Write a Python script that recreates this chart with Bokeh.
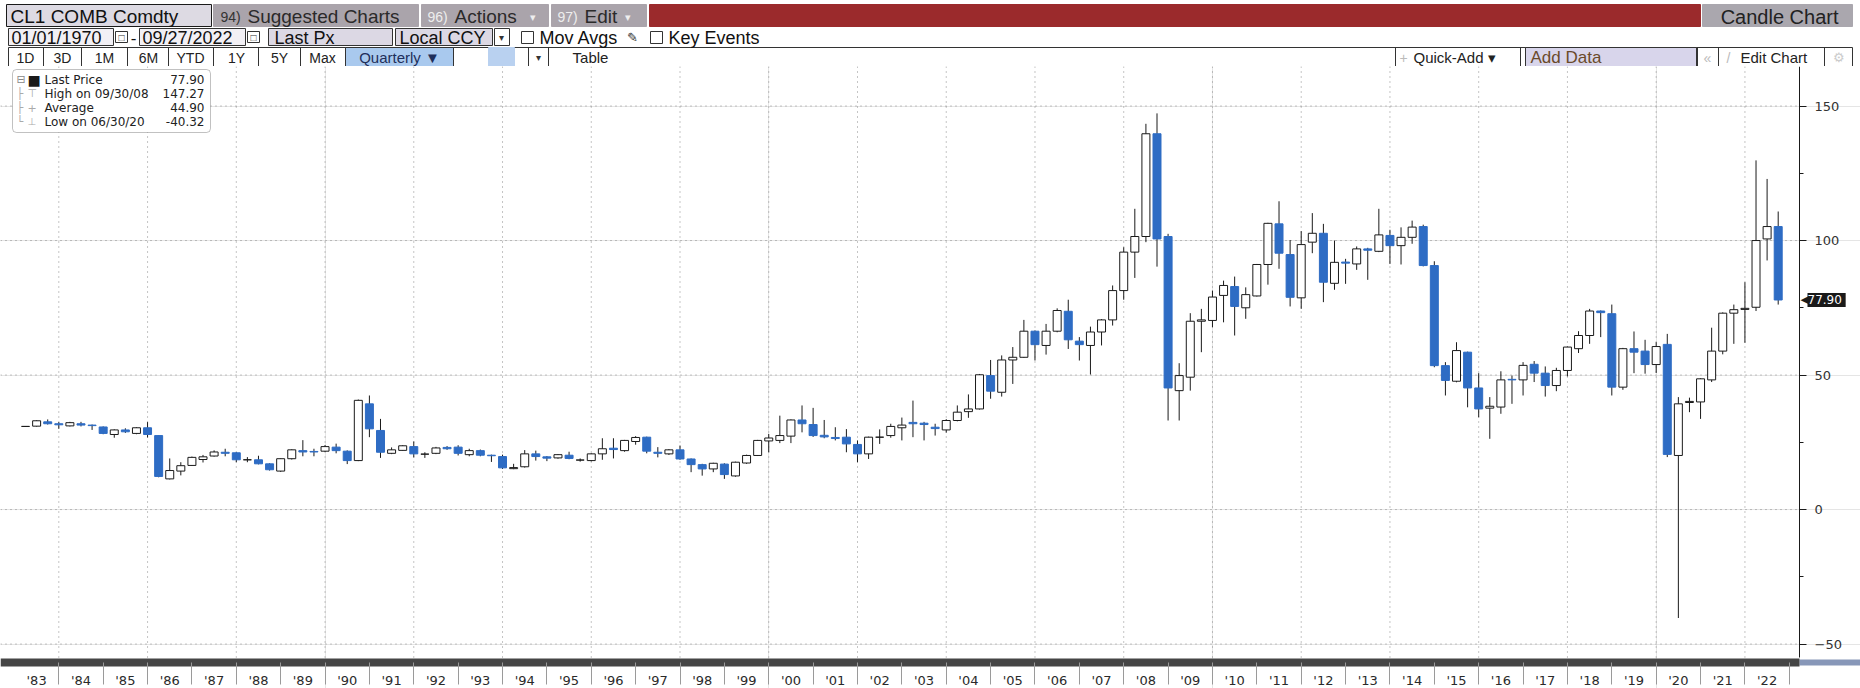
import pandas as pd
from bokeh.plotting import figure
from bokeh.models import Range1d, FixedTicker, Label, BoxAnnotation, ColumnDataSource, LinearAxis
from bokeh.layouts import column
from bokeh.embed import file_html
from bokeh.resources import INLINE
from bokeh.core.properties import value

# ---------------- data ----------------
quarters = pd.period_range("1983Q1", "2022Q3", freq="Q")

year_labels = ["'83", "'84", "'85", "'86", "'87", "'88", "'89", "'90", "'91", "'92",
               "'93", "'94", "'95", "'96", "'97", "'98", "'99", "'00", "'01", "'02",
               "'03", "'04", "'05", "'06", "'07", "'08", "'09", "'10", "'11", "'12",
               "'13", "'14", "'15", "'16", "'17", "'18", "'19", "'20", "'21", "'22"]

opens = [30.9, 31.0, 32.6, 31.9, 31.1, 31.9, 31.4, 30.7, 27.9, 29.6,
         28.3, 30.4, 27.5, 11.4, 14.3, 16.4, 18.6, 19.9, 21.3, 21.1,
         18.5, 18.5, 17.0, 14.3, 18.9, 21.9, 21.6, 21.7, 23.2, 21.7,
         18.2, 39.3, 29.4, 20.9, 22.0, 23.4, 20.6, 20.9, 23.1, 23.2,
         20.4, 21.9, 20.2, 19.7, 15.2, 15.9, 20.7, 19.6, 19.2, 20.2,
         18.4, 18.2, 20.7, 22.8, 21.9, 25.3, 26.9, 21.3, 20.7, 22.2,
         18.8, 16.7, 15.1, 16.9, 12.5, 17.3, 20.1, 25.5, 25.7, 27.3,
         33.3, 31.6, 27.6, 26.8, 26.9, 24.2, 20.7, 26.9, 27.5, 30.4,
         32.4, 32.1, 30.6, 29.6, 33.1, 36.4, 37.4, 49.8, 43.6, 55.6,
         56.6, 66.3, 61.0, 66.3, 73.7, 62.6, 61.0, 66.0, 70.5, 81.4,
         95.7, 101.5, 139.7, 101.5, 44.2, 49.2, 70.0, 70.3, 79.6, 82.9,
         75.0, 79.4, 91.1, 106.2, 94.8, 78.7, 99.4, 102.7, 84.1, 92.0,
         91.3, 96.9, 96.0, 101.9, 98.1, 101.2, 105.2, 90.7, 53.5, 47.7,
         58.5, 45.2, 37.7, 38.1, 48.4, 48.2, 54.0, 50.7, 46.1, 51.7,
         59.8, 64.7, 73.8, 72.8, 45.5, 59.8, 58.9, 53.9, 61.4, 20.1,
         39.8, 40.0, 48.2, 58.9, 73.0, 74.4, 75.2, 100.6, 105.2]

highs = [31.0, 33.2, 33.5, 32.5, 32.6, 32.6, 31.6, 30.9, 29.8, 30.2,
         30.6, 32.5, 27.6, 19.0, 17.6, 19.7, 20.3, 22.0, 22.6, 21.3,
         19.5, 20.0, 17.2, 19.0, 22.4, 25.8, 22.6, 24.0, 24.5, 22.0,
         40.9, 42.4, 33.7, 23.1, 23.9, 25.3, 21.3, 23.3, 23.6, 23.9,
         22.6, 22.3, 20.4, 20.4, 17.0, 22.1, 21.9, 19.9, 20.6, 21.5,
         19.0, 20.9, 26.5, 26.5, 25.9, 27.3, 27.1, 23.2, 22.5, 23.8,
         19.0, 17.0, 17.4, 17.2, 17.8, 20.4, 25.9, 28.1, 34.9, 33.5,
         38.7, 37.8, 33.3, 30.6, 29.9, 25.7, 27.1, 29.8, 31.9, 34.2,
         40.5, 32.6, 31.9, 33.6, 38.7, 42.8, 50.4, 55.6, 57.3, 60.4,
         70.5, 66.6, 69.0, 74.8, 78.0, 64.1, 68.0, 70.8, 83.3, 97.5,
         111.8, 143.4, 147.27, 102.5, 54.4, 73.0, 74.6, 81.4, 85.1, 86.6,
         82.6, 91.3, 106.6, 114.6, 100.2, 103.5, 110.2, 106.2, 100.0, 93.2,
         97.8, 97.3, 111.8, 104.0, 104.9, 107.4, 105.9, 92.3, 54.8, 62.2,
         58.7, 50.7, 41.8, 51.4, 49.8, 54.8, 55.2, 53.2, 52.7, 60.6,
         66.3, 74.6, 74.0, 76.2, 60.1, 66.2, 63.1, 62.2, 65.3, 41.8,
         41.6, 48.8, 67.6, 73.3, 76.2, 84.5, 129.8, 122.9, 110.8]

lows = [30.8, 30.8, 31.6, 30.0, 30.9, 30.9, 29.6, 28.0, 26.7, 28.5,
        28.0, 26.8, 12.0, 11.2, 12.7, 16.2, 17.5, 19.7, 19.8, 17.6,
        17.6, 16.8, 14.5, 14.0, 18.6, 19.8, 19.8, 21.4, 20.9, 16.9,
        18.0, 26.9, 19.2, 20.6, 21.9, 19.4, 19.2, 20.6, 22.2, 20.1,
        19.8, 19.8, 17.7, 15.1, 15.0, 15.6, 18.2, 18.0, 18.9, 18.7,
        17.8, 17.9, 18.5, 19.0, 21.5, 24.1, 20.9, 19.4, 20.3, 18.5,
        13.9, 12.6, 13.9, 11.4, 12.2, 17.0, 19.9, 21.3, 24.7, 24.7,
        28.7, 27.0, 26.5, 25.7, 21.3, 17.6, 18.8, 24.4, 26.7, 25.7,
        26.9, 25.7, 27.5, 28.6, 32.8, 34.1, 37.2, 41.2, 42.0, 46.7,
        56.4, 55.4, 57.6, 65.9, 59.7, 55.4, 50.2, 61.0, 68.4, 78.0,
        86.1, 99.4, 90.3, 33.1, 33.1, 44.2, 58.5, 67.8, 69.6, 64.7,
        70.9, 79.2, 83.6, 89.5, 75.5, 74.6, 95.3, 77.1, 81.7, 83.9,
        89.1, 85.4, 95.7, 91.3, 91.1, 98.8, 90.4, 52.9, 42.4, 47.3,
        38.0, 34.3, 26.3, 35.6, 39.3, 42.4, 47.4, 42.0, 44.0, 49.5,
        58.2, 61.6, 64.1, 42.4, 44.5, 50.7, 50.5, 50.8, 19.5, -40.32,
        36.2, 33.7, 47.4, 57.7, 61.6, 62.0, 73.8, 92.6, 76.2]

closes = [30.9, 33.0, 31.9, 31.5, 32.3, 31.4, 31.2, 28.3, 29.6, 28.9,
          30.4, 27.9, 12.3, 14.5, 16.3, 19.4, 19.6, 21.4, 20.9, 18.5,
          18.5, 17.0, 14.8, 18.9, 22.2, 21.4, 21.4, 23.4, 21.9, 18.2,
          40.6, 30.0, 21.3, 22.2, 23.7, 20.7, 20.6, 22.9, 22.6, 20.9,
          21.9, 20.2, 20.0, 15.5, 15.6, 20.7, 19.7, 19.1, 20.4, 19.0,
          18.4, 20.7, 22.6, 22.3, 25.7, 26.8, 21.7, 20.9, 22.2, 18.8,
          16.7, 15.1, 17.2, 13.0, 17.6, 20.1, 25.7, 26.6, 27.5, 33.3,
          31.9, 27.5, 27.0, 26.4, 24.4, 20.7, 26.9, 26.9, 30.9, 31.4,
          31.9, 31.6, 30.1, 33.1, 36.2, 37.4, 50.1, 44.0, 55.6, 56.6,
          66.3, 61.3, 66.3, 74.0, 63.1, 61.3, 66.0, 70.5, 81.4, 95.7,
          101.5, 139.7, 100.6, 45.2, 49.8, 70.0, 70.5, 79.0, 83.3, 75.5,
          79.9, 91.1, 106.4, 95.3, 78.9, 98.5, 102.7, 84.5, 91.9, 91.6,
          96.9, 96.4, 102.1, 98.1, 101.2, 105.0, 90.7, 53.5, 48.0, 59.1,
          45.2, 37.4, 38.4, 48.2, 48.2, 53.6, 50.7, 46.1, 51.7, 60.4,
          64.7, 73.8, 73.2, 45.5, 59.8, 58.5, 53.9, 60.6, 20.5, 39.3,
          40.2, 48.6, 58.9, 73.0, 74.3, 74.8, 100.0, 105.2, 77.9]

price_ticks = [-50, 0, 50, 100, 150]
price_minor_ticks = [-25, 25, 75, 125]
grid_years = list(range(1984, 2024, 2))

legend_rows = [("Last Price", "77.90"), ("High on 09/30/08", "147.27"),
               ("Average", "44.90"), ("Low on 06/30/20", "-40.32")]
last_price = 77.90

# ---------------- styles / geometry ----------------
BLUE = "#2e6cc4"
INK = "#1a1a1a"
GRID = "#8a8a8a"
UI_FONT = "Liberation Sans"
CH_FONT = "DejaVu Sans"

W = 1860
HDR_H = 66
MAIN_H = 622
PRICE_H = 591.0             # pixel height of the price area (above the time bar)
AXIS_PX = 1799.0            # pixel position of the price axis inside the frame
X0, X1 = 1982.686, 2023.23  # data x at frame left edge / at the price axis
XEND = X0 + W / AXIS_PX * (X1 - X0)
Y0, Y1 = -55.0, 164.7       # price at the top of the time bar / at the top of the frame
YB = Y1 - MAIN_H / PRICE_H * (Y1 - Y0)


def fx(px):
    return X0 + px / AXIS_PX * (X1 - X0)


def fy(py):
    return Y1 - py / PRICE_H * (Y1 - Y0)


BAR_Y = fy(PRICE_H + 5)     # centre line of the time bar

# ---------------- header (terminal chrome) ----------------
h = figure(width=W, height=HDR_H, x_range=Range1d(0, 1860), y_range=Range1d(66, 0),
           output_backend="svg", toolbar_location=None, min_border=0,
           x_axis_type=None, y_axis_type=None)
h.outline_line_color = None
h.grid.visible = False
h.background_fill_color = "white"
h.border_fill_color = "white"

hb = [  # x0, x1, y0, y1, fill, line
    (6, 211, 4, 26, "#dddae3", "#1a1a1a"),
    (213, 418, 4, 26, "#aaa4ab", "#aaa4ab"),
    (421, 548, 4, 26, "#aaa4ab", "#aaa4ab"),
    (551, 646, 4, 26, "#aaa4ab", "#aaa4ab"),
    (649, 1700, 4, 26, "#9b2a2c", "#9b2a2c"),
    (1702, 1852, 4, 26, "#aaa7ae", "#aaa7ae"),
    (8, 113, 28, 45, "#f2f0f5", "#333333"),
    (115, 127, 31, 42, "#ffffff", "#333333"),
    (139, 245, 28, 45, "#f2f0f5", "#333333"),
    (247, 259, 31, 42, "#ffffff", "#333333"),
    (268, 392, 28, 45, "#dcd8e4", "#333333"),
    (395, 492, 28, 45, "#dcd8e4", "#333333"),
    (494, 509, 28, 45, "#ffffff", "#333333"),
    (521, 533, 31, 43, "#ffffff", "#333333"),
    (650, 662, 31, 43, "#ffffff", "#333333"),
    (8, 1852, 47, 66, "#ffffff", "#333333"),
    (345, 453, 47, 66, "#a9c9ee", "#333333"),
    (488, 514, 47, 66, "#b9d1f0", "#b9d1f0"),
    (1525, 1696, 47, 66, "#d8d5eb", "#333333"),
]
h.quad(left=[b[0] for b in hb], right=[b[1] for b in hb], bottom=[b[3] for b in hb],
       top=[b[2] for b in hb], fill_color=[b[4] for b in hb], line_color=[b[5] for b in hb],
       line_width=1)

dividers = [43, 81, 127, 168, 213, 258, 300, 528, 548, 1395, 1520, 1697, 1718, 1824]
h.segment(x0=dividers, x1=dividers, y0=[47] * len(dividers), y1=[66] * len(dividers),
          line_color="#333333", line_width=1)

ht = [  # x, y, text, size, color, align
    (10, 16, "CL1 COMB Comdty", "19px", "#111111", "left"),
    (220, 16, "94)", "14px", "#333333", "left"),
    (247, 16, "Suggested Charts", "19px", "#2a2a2a", "left"),
    (427, 16, "96)", "14px", "#eeeeee", "left"),
    (454, 16, "Actions", "19px", "#2a2a2a", "left"),
    (529, 16, "▾", "11px", "#eeeeee", "left"),
    (557, 16, "97)", "14px", "#eeeeee", "left"),
    (584, 16, "Edit", "19px", "#2a2a2a", "left"),
    (624, 16, "▾", "11px", "#eeeeee", "left"),
    (1838, 16, "Candle Chart", "20px", "#222222", "right"),
    (11, 37, "01/01/1970", "18px", "#111111", "left"),
    (121, 37, "□", "10px", "#333333", "center"),
    (133, 37, "-", "17px", "#111111", "center"),
    (142, 37, "09/27/2022", "18px", "#111111", "left"),
    (253, 37, "□", "10px", "#333333", "center"),
    (274, 37, "Last Px", "18px", "#111111", "left"),
    (399, 37, "Local CCY", "18px", "#111111", "left"),
    (501, 37, "▾", "10px", "#333333", "center"),
    (539, 37, "Mov Avgs", "18px", "#111111", "left"),
    (626, 37, "✎", "13px", "#333333", "left"),
    (668, 37, "Key Events", "18px", "#111111", "left"),
    (25, 57, "1D", "14px", "#222222", "center"),
    (62, 57, "3D", "14px", "#222222", "center"),
    (104, 57, "1M", "14px", "#222222", "center"),
    (148, 57, "6M", "14px", "#222222", "center"),
    (190, 57, "YTD", "14px", "#222222", "center"),
    (236, 57, "1Y", "14px", "#222222", "center"),
    (279, 57, "5Y", "14px", "#222222", "center"),
    (322, 57, "Max", "14px", "#222222", "center"),
    (399, 57, "Quarterly ▼", "15px", "#1f2f5a", "center"),
    (538, 57, "▾", "10px", "#333333", "center"),
    (590, 57, "Table", "15px", "#222222", "center"),
    (1403, 57, "+", "14px", "#bbbbbb", "center"),
    (1413, 57, "Quick-Add ▾", "15px", "#222222", "left"),
    (1530, 57, "Add Data", "17px", "#6a4a2a", "left"),
    (1707, 57, "«", "14px", "#bbbbbb", "center"),
    (1728, 57, "/", "14px", "#bbbbbb", "center"),
    (1740, 57, "Edit Chart", "15px", "#222222", "left"),
    (1838, 57, "⚙", "13px", "#cccccc", "center"),
]
hsrc = ColumnDataSource(dict(x=[t[0] for t in ht], y=[t[1] for t in ht], text=[t[2] for t in ht],
                             size=[t[3] for t in ht], color=[t[4] for t in ht],
                             align=[t[5] for t in ht]))
h.text(x="x", y="y", text="text", source=hsrc, text_font=value(UI_FONT),
       text_font_size="size", text_color="color", text_align="align",
       text_baseline="middle")

# ---------------- main candle chart ----------------
xs = [q.year + q.quarter / 4.0 for q in quarters]
top = [max(o, c) for o, c in zip(opens, closes)]
bottom = [min(o, c) for o, c in zip(opens, closes)]
fill = [BLUE if c < o else ("white" if c > o else INK) for o, c in zip(opens, closes)]
line = [BLUE if c < o else INK for o, c in zip(opens, closes)]
src = ColumnDataSource(dict(x=xs, open=opens, high=highs, low=lows, close=closes,
                            top=top, bottom=bottom, fill=fill, line=line))

p = figure(width=W, height=MAIN_H, x_range=Range1d(X0, XEND), y_range=Range1d(YB, Y1),
           x_axis_location=None, y_axis_location=None, output_backend="svg",
           toolbar_location=None, min_border=0)
p.outline_line_color = None
p.background_fill_color = "white"
p.border_fill_color = "white"

# dotted grid lines (horizontal stop at the price axis, vertical stop at the time bar)
p.segment(x0=[X0] * len(price_ticks), x1=[X1] * len(price_ticks), y0=price_ticks,
          y1=price_ticks, line_color=GRID, line_dash="1 4", line_width=1)
p.segment(x0=grid_years, x1=grid_years, y0=[Y0] * len(grid_years), y1=[Y1] * len(grid_years),
          line_color=GRID, line_dash="1 4", line_width=1)

# candles
p.segment(x0="x", y0="high", x1="x", y1="low", source=src, line_color=INK, line_width=1)
p.vbar(x="x", width=0.18, top="top", bottom="bottom", source=src,
       fill_color="fill", line_color="line", line_width=1)

# navigator end piece right of the price axis
p.quad(left=[X1], right=[XEND], top=[fy(PRICE_H + 2)], bottom=[fy(PRICE_H + 8)],
       fill_color="#8797b8", line_color=None)

# time axis: thick bar with year labels and separators below it
centers = [y + 0.5 for y in range(1983, 2023)]
xax = LinearAxis(fixed_location=BAR_Y, bounds=(X0, X1),
                 ticker=FixedTicker(ticks=centers, minor_ticks=list(range(1984, 2024))))
xax.major_label_overrides = {c: lab for c, lab in zip(centers, year_labels)}
xax.major_tick_line_color = None
xax.major_tick_in = 0
xax.major_tick_out = 0
xax.minor_tick_in = 0
xax.minor_tick_out = 22
xax.minor_tick_line_color = "#9a9a9a"
xax.axis_line_width = 8
xax.axis_line_color = "#454545"
xax.major_label_text_font = CH_FONT
xax.major_label_text_font_size = "13px"
xax.major_label_text_color = "#2a2a2a"
xax.major_label_standoff = -12
p.add_layout(xax, "below")

# price axis, drawn at the end of the data area
yax = LinearAxis(fixed_location=X1, bounds=(Y0, Y1),
                 ticker=FixedTicker(ticks=price_ticks, minor_ticks=price_minor_ticks))
yax.axis_line_color = INK
yax.major_tick_in = 0
yax.major_tick_out = 7
yax.minor_tick_in = 0
yax.minor_tick_out = 4
yax.major_tick_line_color = INK
yax.minor_tick_line_color = INK
yax.major_label_standoff = 8
yax.major_label_text_font = CH_FONT
yax.major_label_text_font_size = "13px"
yax.major_label_text_color = "#333333"
p.add_layout(yax, "right")

# legend box
p.add_layout(BoxAnnotation(left=fx(12), right=fx(210), top=fy(3), bottom=fy(66),
                           fill_color="white", fill_alpha=1.0, line_color="#333333",
                           line_width=1, border_radius=4))
row_y = [13, 27, 41, 55]
icons = [("⊟", "#888888"), ("├", "#aaaaaa"), ("├", "#aaaaaa"), ("└", "#aaaaaa")]
marks = [("■", INK, "14px"), ("⊤", "#aaaaaa", "11px"), ("+", "#aaaaaa", "11px"),
         ("⊥", "#aaaaaa", "10px")]
for (lab, val), ry, (ic, icc), (mk, mkc, mks) in zip(legend_rows, row_y, icons, marks):
    p.add_layout(Label(x=fx(16), y=fy(ry), text=ic, text_color=icc, text_font=CH_FONT,
                       text_font_size="11px", text_baseline="middle"))
    p.add_layout(Label(x=fx(27), y=fy(ry), text=mk, text_color=mkc, text_font=CH_FONT,
                       text_font_size=mks, text_baseline="middle"))
    p.add_layout(Label(x=fx(44), y=fy(ry), text=lab, text_color="#222222", text_font=CH_FONT,
                       text_font_size="12px", text_baseline="middle"))
    p.add_layout(Label(x=fx(204), y=fy(ry), text=val, text_color="#222222", text_font=CH_FONT,
                       text_font_size="12px", text_baseline="middle", text_align="right"))

# last price tag on the price axis
p.add_layout(Label(x=fx(AXIS_PX + 1), y=last_price, text="◀", text_color=INK, text_font=CH_FONT,
                   text_font_size="11px", text_baseline="middle"))
p.add_layout(Label(x=fx(AXIS_PX + 8), y=last_price, text="77.90 ", text_color="white",
                   text_font=CH_FONT, text_font_size="12px", text_baseline="middle",
                   background_fill_color=INK))

layout = column(h, p, spacing=0)
open("out.html", "w").write(file_html(layout, INLINE))
